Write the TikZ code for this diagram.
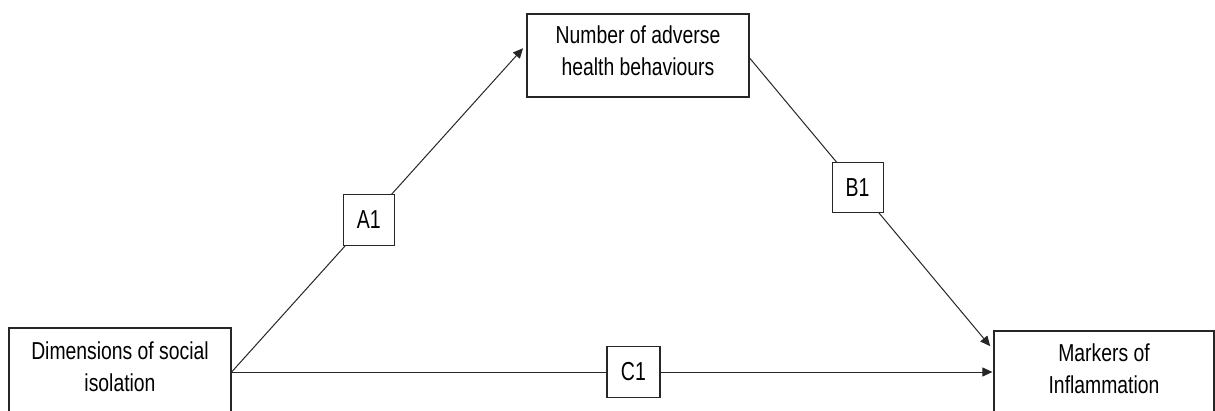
\documentclass[tikz,border=0pt]{standalone}
\usepackage{fontspec}
\setmainfont{Liberation Sans}[FakeStretch=0.79]
\newfontfamily\labelfont{Liberation Sans}[FakeStretch=0.75]
\usetikzlibrary{arrows.meta}
\begin{document}
\begin{tikzpicture}[x=1pt,y=1pt,
  varbox/.style={draw=black!85,line width=1.2pt,fill=white,align=center,
    inner sep=0pt,font=\fontsize{24.5}{32}\selectfont,
    execute at end node={\rule[-10pt]{0pt}{10pt}}},
  pathbox/.style={draw=black!85,line width=1.2pt,fill=white,inner sep=0pt,
    minimum width=51pt,minimum height=51pt,
    font=\labelfont\fontsize{26}{30}\selectfont},
  link/.style={draw=black!85,line width=1pt,
    -{Triangle[length=10pt,width=9pt]}}]
\clip (0,0) rectangle (1215,410);
\useasboundingbox (0,0) rectangle (1215,410);
% the three variables
\node[varbox,minimum width=222pt,minimum height=88pt] (dim) at (120,38)
  {Dimensions of social\\isolation};
\node[varbox,minimum width=222pt,minimum height=83pt] (beh) at (638,354.5)
  {Number of adverse\\health behaviours};
\node[varbox,minimum width=220pt,minimum height=86pt] (inf) at (1104,36)
  {Markers of\\Inflammation};
% paths with their labels
\draw[link,shorten >=5pt] (dim.east) -- ([yshift=11pt]beh.west)
  node[pathbox,pos=0.465] (a1) {A1};
\draw[link,shorten >=5pt] ([yshift=-2.5pt]beh.east) -- ([yshift=24pt]inf.west)
  node[pathbox,pos=0.443,minimum height=50pt] (b1) {B1};
\draw[link,shorten >=1pt] (dim.east) -- (inf.west |- dim.east)
  node[pathbox,pos=0.5275,minimum width=53pt] (c1) {C1};
\end{tikzpicture}
\end{document}
